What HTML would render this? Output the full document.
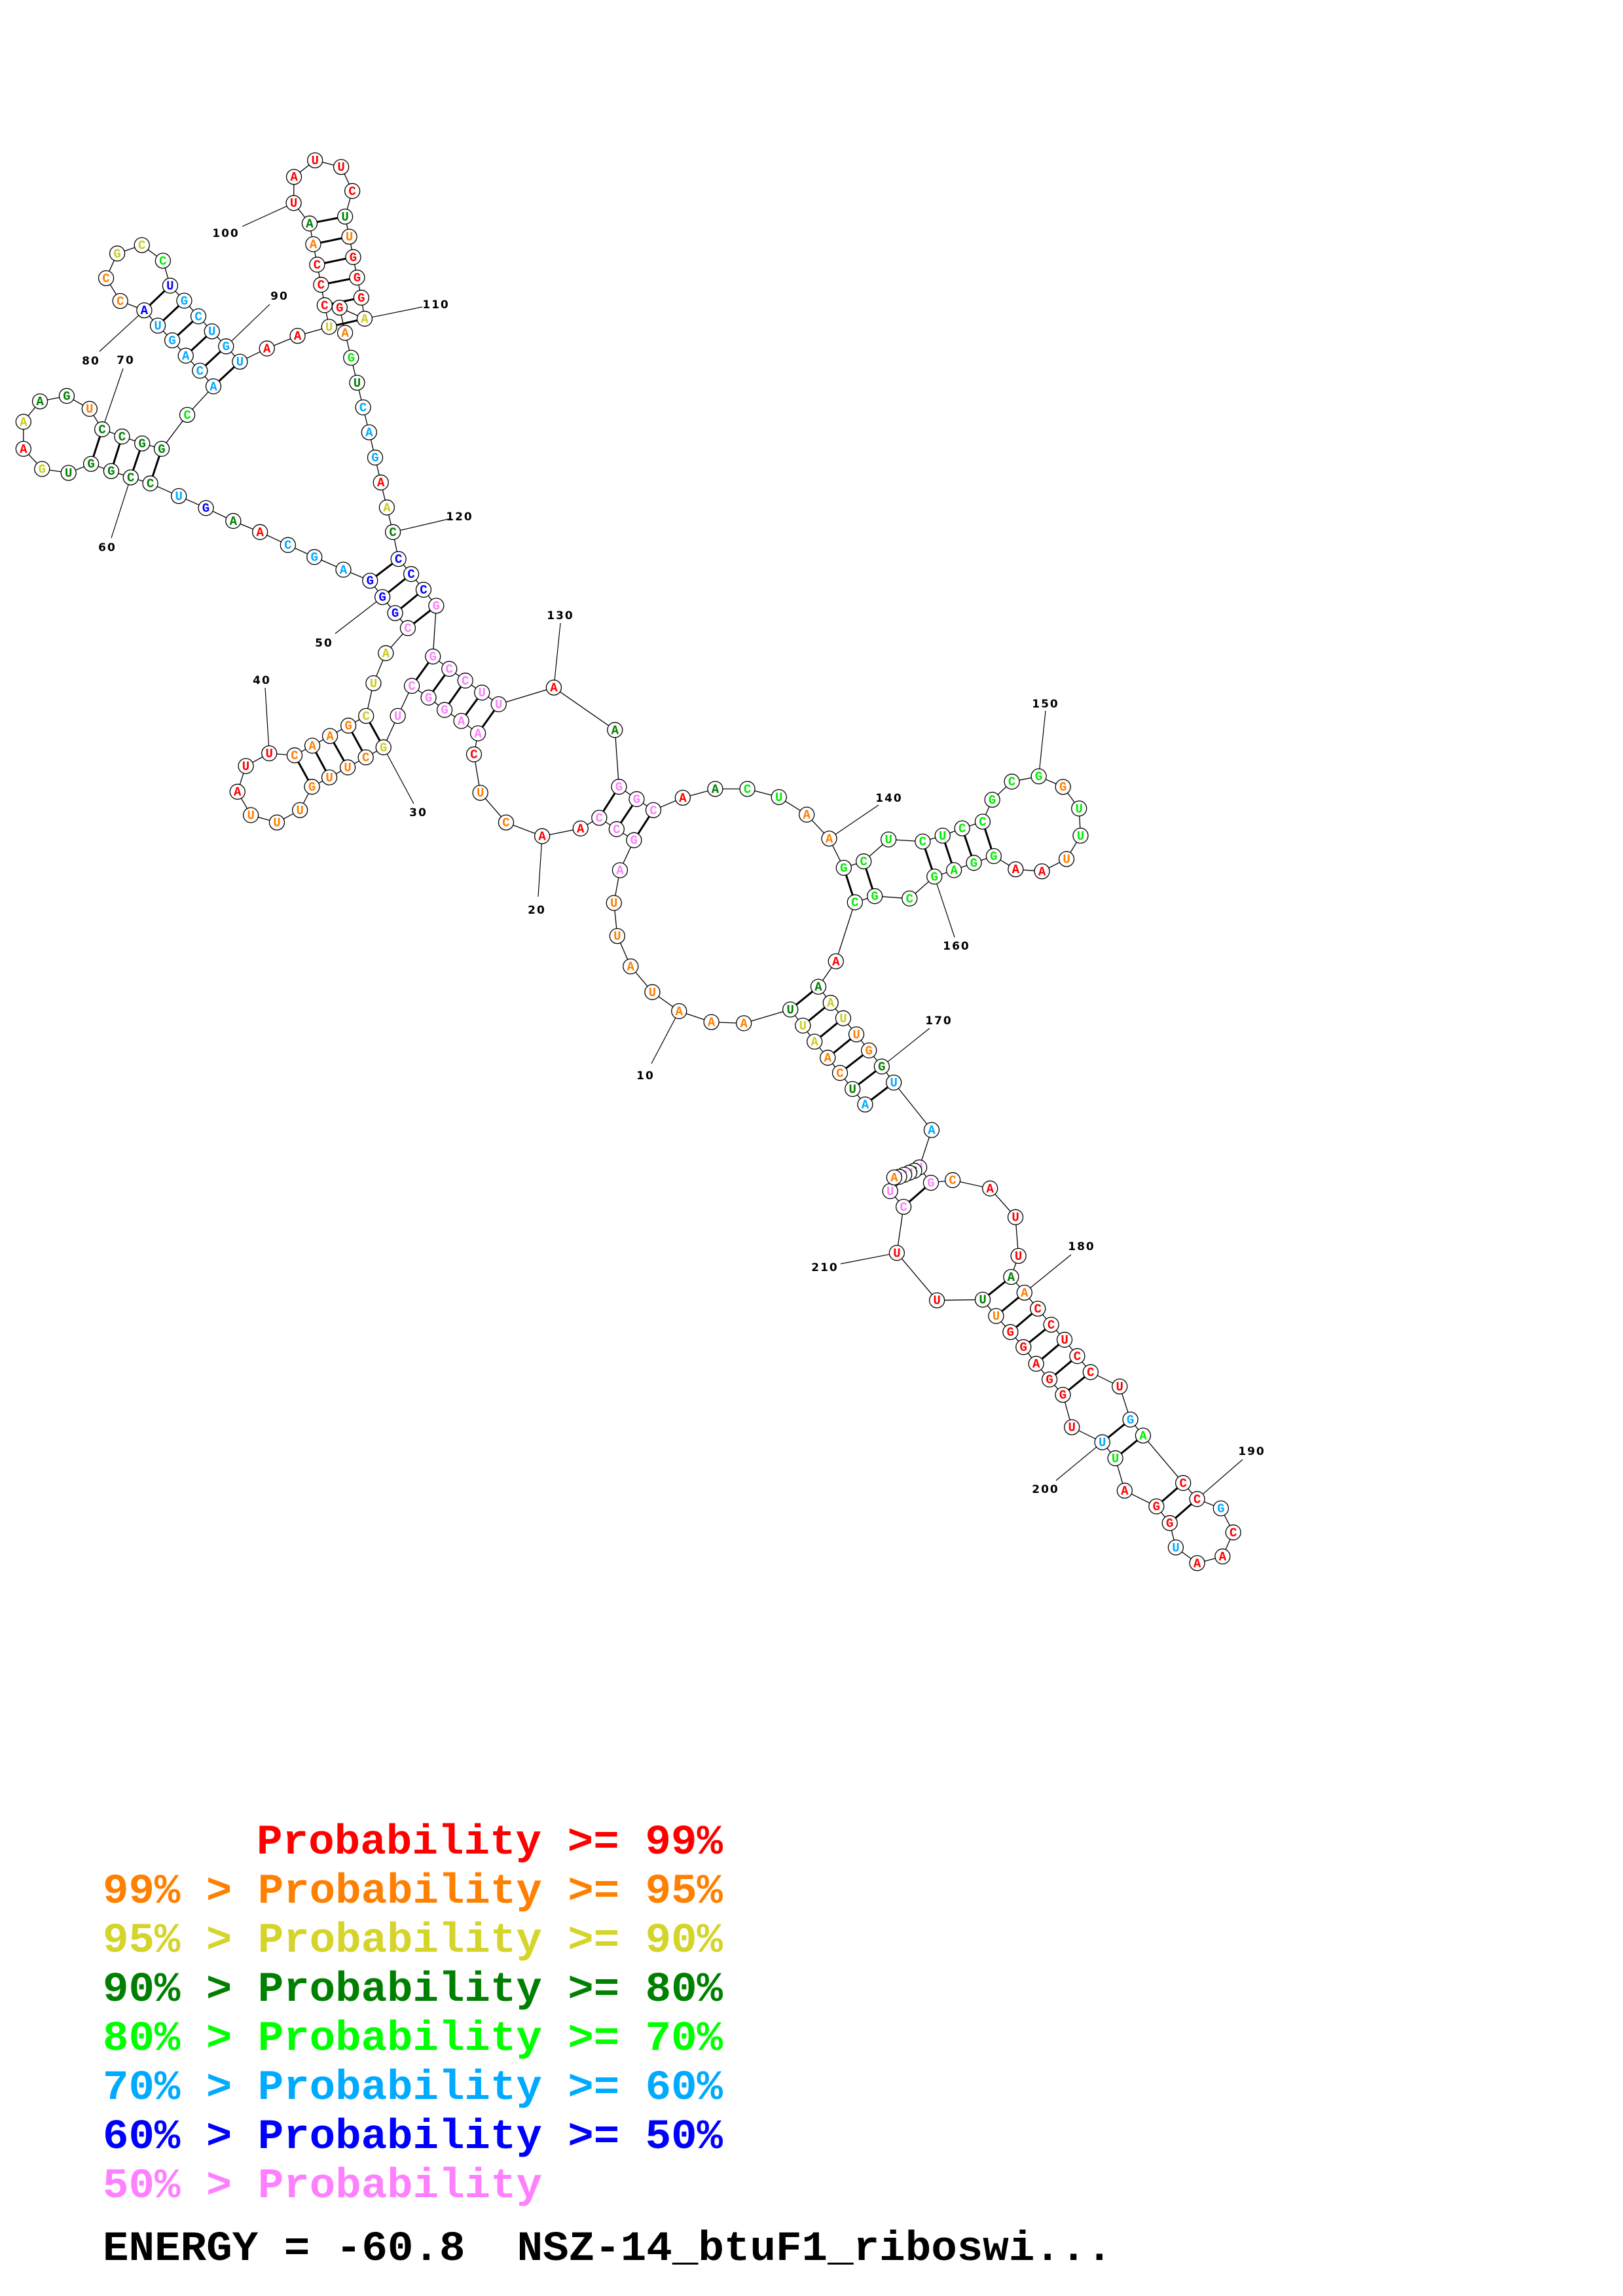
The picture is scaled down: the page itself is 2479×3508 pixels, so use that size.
<!DOCTYPE html>
<html><head><meta charset="utf-8"><style>
html,body{margin:0;padding:0;background:#fff;}
svg{display:block;}
</style></head><body>
<svg id="s" width="2479" height="3508" viewBox="0 0 2479 3508" xmlns="http://www.w3.org/2000/svg">
<g id="lines"></g><g id="pairs"></g><g id="labels" font-family="'DejaVu Sans','Liberation Sans',sans-serif" font-weight="bold" font-size="17" fill="#000"></g><g id="nodes"></g>
<g id="legend" font-family="'Liberation Mono',monospace" font-weight="bold" font-size="64">
<text x="392" y="2832" fill="#ff0000" textLength="712" lengthAdjust="spacingAndGlyphs">Probability &gt;= 99%</text>
<text x="157" y="2907" fill="#ff8000" textLength="947" lengthAdjust="spacingAndGlyphs">99% &gt; Probability &gt;= 95%</text>
<text x="157" y="2982" fill="#d4d42a" textLength="947" lengthAdjust="spacingAndGlyphs">95% &gt; Probability &gt;= 90%</text>
<text x="157" y="3057" fill="#008000" textLength="947" lengthAdjust="spacingAndGlyphs">90% &gt; Probability &gt;= 80%</text>
<text x="157" y="3132" fill="#00ff00" textLength="947" lengthAdjust="spacingAndGlyphs">80% &gt; Probability &gt;= 70%</text>
<text x="157" y="3207" fill="#00aaff" textLength="947" lengthAdjust="spacingAndGlyphs">70% &gt; Probability &gt;= 60%</text>
<text x="157" y="3282" fill="#0000ff" textLength="947" lengthAdjust="spacingAndGlyphs">60% &gt; Probability &gt;= 50%</text>
<text x="157" y="3357" fill="#ff80ff" textLength="671" lengthAdjust="spacingAndGlyphs">50% &gt; Probability</text>
<text x="157" y="3453" fill="#000" textLength="1542" lengthAdjust="spacingAndGlyphs" xml:space="preserve">ENERGY = -60.8  NSZ-14_btuF1_riboswi...</text>
</g>
</svg>
<script>
var Z={1:[2.178,0,200],2:[1.96,300,850],3:[2.24,1050,1000],4:[1.96,1200,1650]};
var COL={R:'#ff0000',O:'#ff8000',Y:'#cccc22',D:'#008000',G:'#00ee00',C:'#00aaff',B:'#0000ff',P:'#ff80ff'};
var d=[
[1,'A','C',3,608,1540],[2,'U','D',3,565,1487],[3,'C','O',3,522,1432],[4,'A','O',3,480,1380],[5,'A','Y',3,435,1325],[6,'U','Y',3,395,1270],[7,'U','D',3,352,1215],[8,'A','O',3,193,1262],[9,'A','O',3,82,1258],
[10,'A','O',2,1445,1362],[11,'U','O',2,1365,1305],[12,'A','O',2,1300,1228],[13,'U','O',2,1260,1137],[14,'U','O',2,1250,1038],[15,'A','P',2,1268,940],[16,'G','P',2,1310,850],[17,'C','P',2,1258,817],[18,'C','P',2,1206,783],[19,'A','R',2,1150,815],[20,'A','R',2,1035,838],
[21,'C','O',2,927,797],[22,'U','O',2,850,708],[23,'C','R',2,831,593],[24,'A','P',2,843,530],[25,'A','P',2,793,493],[26,'G','P',2,743,460],[27,'G','P',2,695,423],[28,'C','P',2,645,388],[29,'U','P',2,603,478],[30,'G','Y',2,560,572],
[31,'C','O',2,507,602],[32,'U','O',2,453,632],[33,'U','O',2,398,662],[34,'G','O',2,346,690],[35,'U','O',2,310,760],[36,'U','O',2,241,797],[37,'U','O',2,163,775],[38,'A','R',2,123,705],[39,'U','R',2,148,628],[40,'U','R',2,218,590],
[41,'C','O',2,294,596],[42,'A','O',2,347,567],[43,'A','O',2,400,538],[44,'G','O',2,455,507],[45,'C','Y',2,508,478],[46,'U','Y',2,530,380],[47,'A','Y',2,567,290],[48,'C','P',2,633,215],[49,'G','B',2,595,170],[50,'G','B',2,557,122],
[51,'G','B',2,520,73],[52,'A','C',2,440,40],[53,'G','C',1,1046,1418],[54,'C','C',1,958,1378],[55,'A','R',1,865,1335],[56,'A','D',1,776,1298],[57,'G','B',1,685,1255],[58,'U','C',1,595,1215],[59,'C','D',1,500,1173],[60,'C','D',1,435,1153],
[61,'G','D',1,370,1132],[62,'G','D',1,303,1108],[63,'U','D',1,228,1138],[64,'G','Y',1,140,1125],[65,'A','R',1,78,1058],[66,'A','Y',1,78,968],[67,'A','D',1,133,900],[68,'G','D',1,222,882],[69,'U','O',1,298,925],[70,'C','D',1,340,993],
[71,'C','D',1,406,1017],[72,'G','D',1,473,1040],[73,'G','D',1,538,1058],[74,'C','G',1,623,945],[75,'A','C',1,710,850],[76,'C','C',1,665,798],[77,'A','C',1,618,748],[78,'G','C',1,573,697],[79,'U','C',1,525,648],[80,'A','B',1,480,597],
[81,'C','O',1,400,566],[82,'C','O',1,353,490],[83,'G','Y',1,390,408],[84,'C','Y',1,472,380],[85,'C','G',1,542,432],[86,'U','B',1,566,515],[87,'G','C',1,613,565],[88,'C','C',1,660,617],[89,'U','C',1,705,667],[90,'G','C',1,752,717],
[91,'U','C',1,798,768],[92,'A','R',1,888,724],[93,'A','R',1,990,682],[94,'U','Y',1,1095,652],[95,'C','R',1,1080,580],[96,'C','R',1,1068,512],[97,'C','R',1,1055,445],[98,'A','O',1,1042,377],[99,'A','D',1,1030,308],[100,'U','R',1,977,240],
[101,'A','R',1,978,153],[102,'U','R',1,1048,98],[103,'U','R',1,1135,120],[104,'C','R',1,1172,200],[105,'U','D',1,1148,285],[106,'U','O',1,1162,352],[107,'G','R',1,1175,420],[108,'G','R',1,1188,488],[109,'G','R',1,1202,555],[110,'A','Y',1,1213,625],
[111,'G','R',1,1130,588],[112,'A','O',1,1148,672],[113,'G','G',1,1168,755],[114,'U','D',1,1188,838],[115,'C','C',1,1208,920],[116,'A','C',1,1228,1003],[117,'G','C',1,1248,1087],[118,'A','R',1,1267,1170],[119,'A','Y',1,1287,1253],[120,'C','D',1,1307,1335],
[121,'C','B',2,605,8],[122,'C','B',2,643,53],[123,'C','B',2,680,100],[124,'G','P',2,718,148],[125,'G','P',2,708,300],[126,'C','P',2,757,337],[127,'C','P',2,805,372],[128,'U','P',2,855,408],[129,'U','P',2,905,443],[130,'A','R',2,1070,393],
[131,'A','D',2,1253,520],[132,'G','P',2,1265,690],[133,'G','P',2,1318,727],[134,'C','P',2,1368,760],[135,'A','R',2,1456,723],[136,'A','D',3,95,460],[137,'C','G',3,205,460],[138,'U','G',3,313,488],[139,'A','O',3,408,548],[140,'A','O',3,485,630],
[141,'G','G',3,535,730],[142,'C','G',3,603,708],[143,'U','G',3,688,633],[144,'C','G',3,805,640],[145,'U','G',3,873,620],[146,'C','G',3,940,595],[147,'C','G',3,1010,572],[148,'G','G',3,1043,497],[149,'C','G',3,1110,435],[150,'G','G',3,1202,417],
[151,'G','O',3,1285,453],[152,'U','G',3,1340,527],[153,'U','G',3,1345,620],[154,'U','O',3,1297,700],[155,'A','R',3,1213,742],[156,'A','R',3,1123,735],[157,'G','G',3,1048,690],[158,'G','G',3,980,713],[159,'A','G',3,912,738],[160,'G','G',3,845,760],
[161,'C','G',3,760,835],[162,'G','G',3,641,827],[163,'C','G',3,573,848],[164,'A','R',3,508,1050],[165,'A','D',3,448,1137],[166,'A','Y',3,490,1192],[167,'U','Y',3,533,1245],[168,'U','O',3,578,1300],[169,'G','O',3,621,1355],[170,'G','D',3,665,1410],
[171,'U','C',3,706,1465],[172,'A','C',4,437,150],[173,'U','P',4,400,262],[174,'G','P',4,435,308],[175,'C','O',4,500,300],[176,'A','R',4,612,325],[177,'U','R',4,688,411],[178,'U','R',4,697,527],[179,'A','D',4,675,590],[180,'A','O',4,715,637],
[181,'C','R',4,755,685],[182,'C','R',4,795,733],[183,'U','R',4,835,778],[184,'C','R',4,873,827],[185,'C','R',4,913,875],[186,'U','R',4,1000,918],[187,'G','C',4,1032,1017],[188,'A','G',4,1070,1065],[189,'C','R',4,1190,1207],[190,'C','R',4,1232,1255],
[191,'G','C',4,1303,1283],[192,'C','R',4,1340,1355],[193,'A','R',4,1308,1427],[194,'A','R',4,1232,1447],[195,'U','C',4,1168,1400],[196,'G','R',4,1150,1327],[197,'G','R',4,1110,1277],[198,'A','R',4,1015,1230],[199,'U','G',4,987,1133],[200,'U','C',4,948,1085],
[201,'U','R',4,857,1040],[202,'G','R',4,830,943],[203,'G','R',4,790,897],[204,'A','R',4,750,850],[205,'G','R',4,712,800],[206,'G','R',4,673,755],[207,'U','O',4,630,707],[208,'U','D',4,590,658],[209,'U','R',4,453,660],[210,'U','R',4,333,518],
[211,'C','P',4,353,380],[212,'U','P',4,313,333],[213,'G','D',4,385,272],[214,'U','P',4,370,278],[215,'C','P',4,355,284],[216,'U','P',4,340,290],[217,'A','O',4,325,292]
];
var P={};
d.forEach(function(e){var z=Z[e[3]];P[e[0]]=[z[1]+e[4]/z[0],z[2]+e[5]/z[0]];});
var pairs=[[1,171],[2,170],[3,169],[4,168],[5,167],[6,166],[7,165],[16,134],[17,133],[18,132],[24,129],[25,128],[26,127],[27,126],[28,125],[30,45],[31,44],[32,43],[33,42],[34,41],[48,124],[49,123],[50,122],[51,121],[59,73],[60,72],[61,71],[62,70],[75,91],[76,90],[77,89],[78,88],[79,87],[80,86],[94,110],[95,109],[96,108],[97,107],[98,106],[99,105],[141,163],[142,162],[144,160],[145,159],[146,158],[147,157],[174,211],[179,208],[180,207],[181,206],[182,205],[183,204],[184,203],[185,202],[187,200],[188,199],[189,197],[190,196]];
var NS='http://www.w3.org/2000/svg';
function el(t,a,par){var e=document.createElementNS(NS,t);for(var k in a)e.setAttribute(k,a[k]);document.getElementById(par).appendChild(e);return e;}
var pts=d.map(function(e){return P[e[0]][0].toFixed(1)+','+P[e[0]][1].toFixed(1);}).join(' ');
el('polyline',{points:pts,fill:'none',stroke:'#000','stroke-width':1.3},'lines');
pairs.forEach(function(p){var a=P[p[0]],b=P[p[1]];el('line',{x1:a[0],y1:a[1],x2:b[0],y2:b[1],stroke:'#000','stroke-width':3},'pairs');});
d.forEach(function(e){var p=P[e[0]];el('circle',{cx:p[0],cy:p[1],r:11.5,fill:'#fff',stroke:'#000','stroke-width':1.3},'nodes');
var t=el('text',{x:p[0],y:p[1]+6,'text-anchor':'middle','font-family':"'Liberation Mono',monospace",'font-weight':'bold','font-size':19,fill:COL[e[2]]},'nodes');t.textContent=e[1];});
var L=[[10,986,1643,995,1625],[20,820,1390,822,1370],[30,639,1241,632,1228],[40,400,1039,405,1051],[50,495,982,512,968],[60,164,836,170,822],[70,192,550,188,563],[80,139,551,152,537],[90,427,452,412,465],[100,345,356,370,346],[110,666,465,645,469],[120,702,789,685,793],[130,856,940,856,952],[140,1358,1219,1342,1230],[150,1597,1075,1597,1086],[160,1461,1445,1458,1432],[170,1434,1559,1420,1571],[180,1652,1904,1636,1917],[190,1912,2217,1898,2230],[200,1597,2275,1613,2262],[210,1260,1936,1284,1931]];
L.forEach(function(l){var p=P[l[0]];el('line',{x1:l[3],y1:l[4],x2:p[0],y2:p[1],stroke:'#000','stroke-width':1.2},'lines');
var t=el('text',{x:l[1],y:l[2]+6,'text-anchor':'middle','letter-spacing':2},'labels');t.textContent=String(l[0]);});
</script>
</body></html>
